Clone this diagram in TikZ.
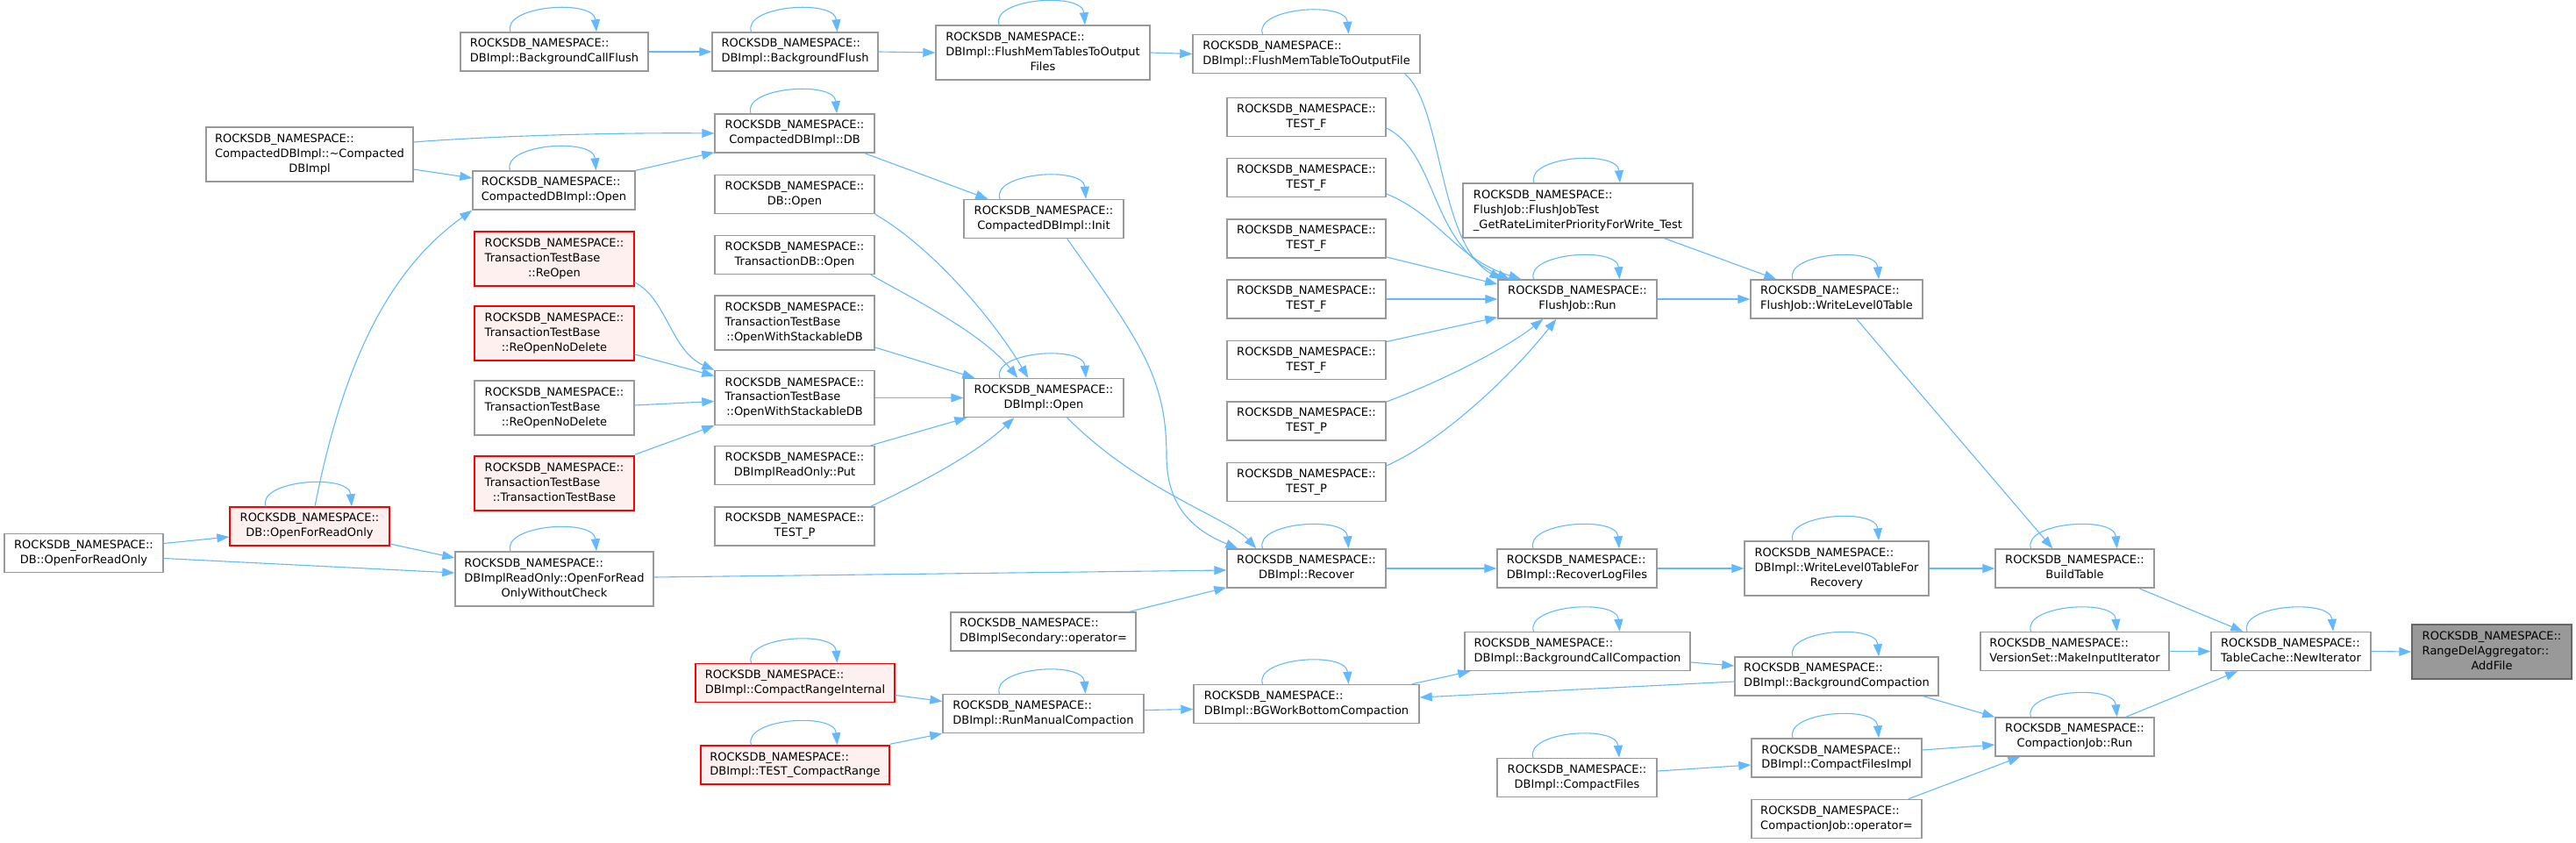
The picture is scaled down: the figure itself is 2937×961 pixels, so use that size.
\documentclass[tikz,border=0pt]{standalone}
\usepackage{fontspec}
\setmainfont{DejaVu Sans}
\usetikzlibrary{arrows.meta,calc}
\definecolor{edgeblue}{HTML}{63B8FF}
\definecolor{boxgray}{HTML}{999999}
\definecolor{redfill}{HTML}{FFF0F0}
\definecolor{grayfill}{HTML}{999999}
\definecolor{grayborder}{HTML}{666666}
\newcommand{\RN}{ROCKSDB\_NAMESPACE::}
\newcommand{\twol}[1]{\begin{tabular}{@{}l@{}}\RN\\\multicolumn{1}{@{}c@{}}{#1}\end{tabular}}
\newcommand{\threel}[2]{\begin{tabular}{@{}l@{}}\RN\\#1\\\multicolumn{1}{@{}c@{}}{#2}\end{tabular}}
\newcommand{\selfloop}[1]{\draw[conn] ($(#1.north)+(-50,0)$) .. controls ($(#1.north)+(-60,-30)$) and ($(#1.north)+(45,-38)$) .. ($(#1.north)+(48,0)$);}
\tikzset{
  nbox/.style={draw=boxgray, line width=1.4pt, fill=white, inner xsep=3pt, inner ysep=2pt,
    minimum height=44pt, font=\fontsize{13}{16.7}\selectfont},
  tall/.style={minimum height=62pt},
  rbox/.style={nbox, draw=red, fill=redfill},
  gbox/.style={nbox, draw=grayborder, fill=grayfill},
  conn/.style={draw=edgeblue, line width=1.1pt, -{Triangle[length=14pt,width=10pt]}},
}
\begin{document}
\begin{tikzpicture}[x=1pt,y=-1pt]
\path[use as bounding box] (0,0) rectangle (2937,961);
% nodes
\node[nbox, minimum width=214] (bcf) at (632,59) {\twol{DBImpl::BackgroundCallFlush}};
\node[nbox, minimum width=189] (bf) at (906.5,59) {\twol{DBImpl::BackgroundFlush}};
\node[nbox, tall, minimum width=244] (fmtof) at (1189,60) {\threel{DBImpl::FlushMemTablesToOutput}{Files}};
\node[nbox, minimum width=259] (fmtf) at (1489.5,61.5) {\twol{DBImpl::FlushMemTableToOutputFile}};
\node[nbox, tall, minimum width=236] (dtor) at (353,176) {\threel{CompactedDBImpl::\textasciitilde Compacted}{DBImpl}};
\node[nbox, minimum width=182] (cdbdb) at (906,152) {\twol{CompactedDBImpl::DB}};
\node[nbox, minimum width=185] (cdbopen) at (631.5,217) {\twol{CompactedDBImpl::Open}};
\node[nbox, minimum width=182] (dbopen) at (906,221.5) {\twol{DB::Open}};
\node[nbox, minimum width=182] (cdbinit) at (1190,249.5) {\twol{CompactedDBImpl::Init}};
\node[rbox, tall, minimum width=182] (reopen) at (632,295) {\threel{TransactionTestBase}{::ReOpen}};
\node[rbox, tall, minimum width=182] (reopenA) at (632,380) {\threel{TransactionTestBase}{::ReOpenNoDelete}};
\node[nbox, tall, minimum width=182] (reopenB) at (632,465) {\threel{TransactionTestBase}{::ReOpenNoDelete}};
\node[rbox, tall, minimum width=182] (ttbctor) at (632,551) {\threel{TransactionTestBase}{::TransactionTestBase}};
\node[nbox, minimum width=182] (txdbopen) at (906,290.5) {\twol{TransactionDB::Open}};
\node[nbox, tall, minimum width=182] (owsA) at (906,368) {\threel{TransactionTestBase}{::OpenWithStackableDB}};
\node[nbox, tall, minimum width=182] (owsB) at (906,453.5) {\threel{TransactionTestBase}{::OpenWithStackableDB}};
\node[nbox, minimum width=182] (dbiopen) at (1190,453.5) {\twol{DBImpl::Open}};
\node[nbox, minimum width=182] (put) at (906,530.5) {\twol{DBImplReadOnly::Put}};
\node[nbox, minimum width=182] (testpL) at (906,600) {\twol{TEST\_P}};
\node[rbox, minimum width=182] (ofroR) at (353,600) {\twol{DB::OpenForReadOnly}};
\node[nbox, minimum width=181] (ofroL) at (95.5,630.5) {\twol{DB::OpenForReadOnly}};
\node[nbox, tall, minimum width=226] (ofrowc) at (632,660) {\threel{DBImplReadOnly::OpenForRead}{OnlyWithoutCheck}};
\node[nbox, minimum width=181] (tfA) at (1489.5,133.5) {\twol{TEST\_F}};
\node[nbox, minimum width=181] (tfB) at (1489.5,202.5) {\twol{TEST\_F}};
\node[nbox, minimum width=181] (tfC) at (1489.5,272) {\twol{TEST\_F}};
\node[nbox, minimum width=181] (tfD) at (1489.5,341) {\twol{TEST\_F}};
\node[nbox, minimum width=181] (tfE) at (1489.5,410.5) {\twol{TEST\_F}};
\node[nbox, minimum width=181] (tpA) at (1489.5,480) {\twol{TEST\_P}};
\node[nbox, minimum width=181] (tpB) at (1489.5,549.5) {\twol{TEST\_P}};
\node[nbox, minimum width=181] (recover) at (1489.5,648) {\twol{DBImpl::Recover}};
\node[nbox, minimum width=211] (dbsecop) at (1189.5,720) {\twol{DBImplSecondary::operator=}};
\node[rbox, minimum width=227] (cri) at (906.5,778.5) {\twol{DBImpl::CompactRangeInternal}};
\node[rbox, minimum width=215] (tcr) at (906.5,872) {\twol{DBImpl::TEST\_CompactRange}};
\node[nbox, minimum width=229] (rmc) at (1189.5,813.5) {\twol{DBImpl::RunManualCompaction}};
\node[nbox, minimum width=257] (bgwbc) at (1489.5,802.5) {\twol{DBImpl::BGWorkBottomCompaction}};
\node[nbox, tall, minimum width=262] (fjt) at (1799,240) {\threel{FlushJob::FlushJobTest}{\_GetRateLimiterPriorityForWrite\_Test}};
\node[nbox, minimum width=181] (fjrun) at (1798.5,341) {\twol{FlushJob::Run}};
\node[nbox, minimum width=196] (wl0) at (2094,341) {\twol{FlushJob::WriteLevel0Table}};
\node[nbox, minimum width=182] (rlf) at (1798,648) {\twol{DBImpl::RecoverLogFiles}};
\node[nbox, tall, minimum width=210] (wl0r) at (2094,648) {\threel{DBImpl::WriteLevel0TableFor}{Recovery}};
\node[nbox, minimum width=257] (bcc) at (1798.5,742.5) {\twol{DBImpl::BackgroundCallCompaction}};
\node[nbox, minimum width=232] (bc) at (2094,771) {\twol{DBImpl::BackgroundCompaction}};
\node[nbox, minimum width=182] (cf) at (1798,886.5) {\twol{DBImpl::CompactFiles}};
\node[nbox, minimum width=194] (cfi) at (2094,864) {\twol{DBImpl::CompactFilesImpl}};
\node[nbox, minimum width=194] (cjop) at (2094,933.5) {\twol{CompactionJob::operator=}};
\node[nbox, minimum width=181] (bt) at (2365.5,648) {\twol{BuildTable}};
\node[nbox, minimum width=215] (mii) at (2365.5,742.5) {\twol{VersionSet::MakeInputIterator}};
\node[nbox, minimum width=182] (tcni) at (2612,742.5) {\twol{TableCache::NewIterator}};
\node[gbox, tall, minimum width=182] (addfile) at (2841,743) {\threel{RangeDelAggregator::}{AddFile}};
\node[nbox, minimum width=181] (cjrun) at (2365.5,840) {\twol{CompactionJob::Run}};
% self loops
\foreach \n in {bcf,bf,fmtof,fmtf,cdbdb,cdbopen,cdbinit,dbiopen,ofroR,ofrowc,fjt,fjrun,wl0,recover,rlf,wl0r,bcc,bc,cf,cfi,bt,mii,tcni,cjrun,rmc,bgwbc,cri,tcr}{\selfloop{\n}}
% edges
\draw[conn] (bcf.east) -- (bf.west);
\draw[conn] (bf.east) -- (fmtof.west);
\draw[conn] (fmtof.east) -- (fmtf.west);
\draw[conn] ($(fmtf.south east)+(-18,0)$) .. controls (1645,120) and (1640,280) .. ($(fjrun.north west)+(5,0)$);
\draw[conn] ($(dtor.east)+(0,-14)$) .. controls (560,155) and (700,151) .. (cdbdb.west);
\draw[conn] ($(dtor.east)+(0,17)$) -- ($(cdbopen.west)+(0,-14)$);
\draw[conn] (cdbopen.north east) -- ($(cdbdb.south west)+(0,-1)$);
\draw[conn] ($(cdbdb.south east)+(-12,0)$) -- ($(cdbinit.north west)+(28,0)$);
\draw[conn] ($(cdbinit.south east)+(-65,0)$) .. controls (1300,390) and (1330,430) .. (1330,520) .. controls (1330,585) and (1370,608) .. ($(recover.north west)+(13,0)$);
\draw[conn] (dbopen.south east) .. controls (1060,280) and (1130,360) .. ($(dbiopen.north west)+(74,0)$);
\draw[conn] ($(txdbopen.south east)+(-5,0)$) .. controls (1040,340) and (1120,380) .. ($(dbiopen.north west)+(62,0)$);
\draw[conn] ($(owsA.east)+(0,28)$) -- ($(dbiopen.north west)+(13,0)$);
\draw[conn] (owsB.east) -- (dbiopen.west);
\draw[conn] ($(put.north east)+(-5,0)$) -- ($(dbiopen.south west)+(4,0)$);
\draw[conn] ($(testpL.north east)+(-5,0)$) .. controls (1040,555) and (1110,520) .. ($(dbiopen.south west)+(58,0)$);
\draw[conn] ($(reopen.east)+(0,27)$) .. controls (760,340) and (765,400) .. (owsB.north west);
\draw[conn] ($(reopenA.east)+(0,24)$) -- ($(owsB.west)+(0,-25)$);
\draw[conn] ($(reopenB.east)+(0,-3)$) -- ($(owsB.west)+(0,4)$);
\draw[conn] ($(ttbctor.north east)+(0,-1)$) -- (owsB.south west);
\draw[conn] ($(ofroR.north)+(6,0)$) .. controls (390,420) and (440,310) .. (cdbopen.south west);
\draw[conn] ($(ofroR.east)+(0,20)$) -- ($(ofrowc.west)+(0,-24)$);
\draw[conn] ($(ofroL.east)+(0,-11)$) -- ($(ofroR.west)+(0,12)$);
\draw[conn] ($(ofroL.east)+(0,6)$) -- ($(ofrowc.west)+(0,-7)$);
\draw[conn] ($(ofrowc.east)+(0,-2)$) -- ($(recover.west)+(0,2)$);
\draw[conn] ($(dbsecop.north east)+(-8,0)$) -- ($(recover.south west)+(0,-1)$);
\draw[conn] ($(dbiopen.south east)+(-65,0)$) .. controls (1300,560) and (1400,590) .. ($(recover.north west)+(34,0)$);
\draw[conn] ($(tfA.east)+(0,12.5)$) .. controls (1640,175) and (1630,280) .. ($(fjrun.north west)+(14,0)$);
\draw[conn] ($(tfB.east)+(0,18.5)$) .. controls (1640,245) and (1660,295) .. ($(fjrun.north west)+(27,0)$);
\draw[conn] ($(tfC.east)+(0,21)$) -- ($(fjrun.west)+(0,-17)$);
\draw[conn] (tfD.east) -- (fjrun.west);
\draw[conn] ($(tfE.east)+(0,-21)$) -- ($(fjrun.south west)+(0,-2)$);
\draw[conn] ($(tpA.east)+(0,-22)$) .. controls (1650,432) and (1720,395) .. ($(fjrun.south west)+(52,0)$);
\draw[conn] ($(tpB.east)+(0,-18.5)$) .. controls (1650,500) and (1730,420) .. ($(fjrun.south west)+(67,0)$);
\draw[conn] ($(fjt.south east)+(-33,0)$) -- ($(wl0.north west)+(30,0)$);
\draw[conn] (fjrun.east) -- (wl0.west);
\draw[conn] ($(wl0.south east)+(-76,0)$) -- ($(bt.north west)+(66,0)$);
\draw[conn] (recover.east) -- (rlf.west);
\draw[conn] (rlf.east) -- (wl0r.west);
\draw[conn] (wl0r.east) -- (bt.west);
\draw[conn] ($(bt.south east)+(-18,0)$) -- ($(tcni.north west)+(37,0)$);
\draw[conn] (mii.east) -- (tcni.west);
\draw[conn] (tcni.east) -- (addfile.west);
\draw[conn] ($(cjrun.north east)+(-33,0)$) -- ($(tcni.south west)+(31,0)$);
\draw[conn] ($(bc.south east)+(-18,0)$) -- (cjrun.north west);
\draw[conn] ($(cfi.east)+(0,-9)$) -- ($(cjrun.west)+(0,9)$);
\draw[conn] ($(cjop.north east)+(-16,0)$) -- ($(cjrun.south west)+(29,0)$);
\draw[conn] ($(cf.east)+(0,-7.5)$) -- ($(cfi.west)+(0,8)$);
\draw[conn] ($(bgwbc.north east)+(-9,0)$) -- ($(bcc.south west)+(7,0)$);
\draw[conn] ($(bcc.east)+(0,12.5)$) -- ($(bc.west)+(0,-12)$);
\draw[conn] ($(bc.west)+(0,6)$) -- ($(bgwbc.east)+(0,-7.5)$);
\draw[conn] ($(rmc.east)+(0,-4)$) -- ($(bgwbc.west)+(0,6)$);
\draw[conn] ($(cri.east)+(0,14)$) -- ($(rmc.west)+(0,-14)$);
\draw[conn] ($(tcr.north east)+(0,-1)$) -- (rmc.south west);
\end{tikzpicture}
\end{document}
